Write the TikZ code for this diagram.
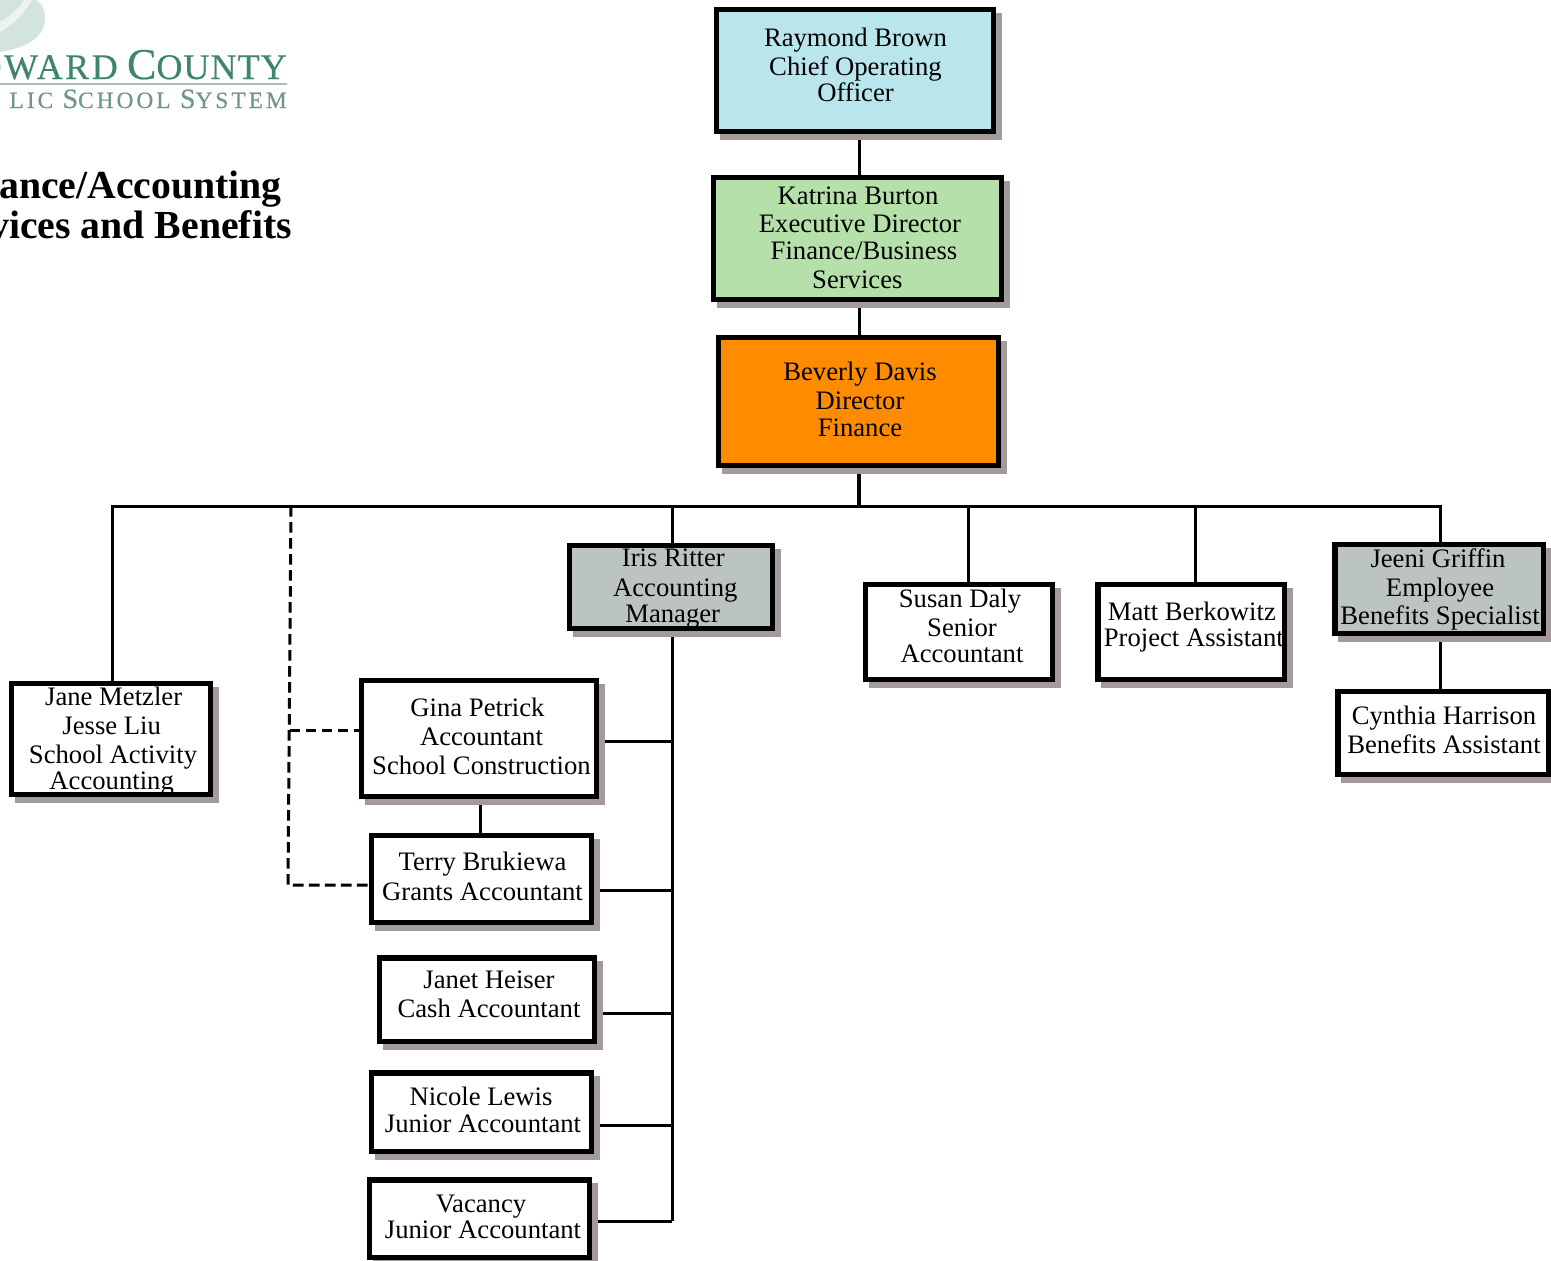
\documentclass[tikz,border=0pt]{standalone}
\usepackage{fontspec}
\setmainfont{Liberation Serif}
\usetikzlibrary{shadows,backgrounds}
\definecolor{shadowc}{HTML}{A39A9A}
\definecolor{bluec}{HTML}{B9E6EC}
\definecolor{greenc}{HTML}{B5E0A9}
\definecolor{orangec}{HTML}{FF8C00}
\definecolor{grayc}{HTML}{BCC4C0}
\definecolor{logoc}{HTML}{3F8470}
\definecolor{logob}{HTML}{6F968B}
\definecolor{logod}{HTML}{D3E3DE}
\definecolor{logoe}{HTML}{ECF3F0}
\tikzset{
  orgbox/.style={draw=black,line width=4.1pt,rectangle,inner sep=0pt,
    general shadow={shadow xshift=4.5pt,shadow yshift=-4.5pt,fill=shadowc,draw=shadowc,line width=4.1pt}},
  boxtext/.style={align=center,inner sep=0pt,font=\fontsize{20}{21}\selectfont},
  link/.style={draw=black,line width=2.25pt},
  thick link/.style={draw=black,line width=3.2pt},
  dash link/.style={draw=black,line width=2.25pt,dash pattern=on 8pt off 4pt},
  titletext/.style={anchor=base east,inner sep=0pt,font=\fontsize{29.8}{30}\selectfont\bfseries},
}
\newcommand\orgnode[6]{%
  \pgfmathsetmacro\bw{0.75*(#4-#2-5.5)}%
  \pgfmathsetmacro\bh{0.75*(#5-#3-5.5)}%
  \node[orgbox,fill=#6,minimum width=\bw pt,minimum height=\bh pt] (#1) at ({(#2+#4)/2},{(#3+#5)/2}) {};
}
\newcommand\orgtext[4]{\node[boxtext] (#1) at (#2,#3) {#4};}
\newcommand\sh[1]{\kern#1pt\relax}
\begin{document}
\begin{tikzpicture}[x=0.75pt,y=-0.75pt]
\useasboundingbox (0,0) rectangle (1551,1260);
% logo
\fill[logod] (0,52) .. controls (25,48) and (45,38) .. (45,18) .. controls (45,10) and (42,4) .. (37,0) -- (0,0) -- cycle;
\fill[logoe] (0,22) .. controls (10,16) and (20,8) .. (24,0) -- (32,0) .. controls (26,12) and (12,26) .. (0,32) -- cycle;
\node[anchor=base east,inner sep=0pt,text=logoc] (logoa) at (287,79)
  {\addfontfeature{FakeBold=0.4}\fontsize{27}{30}\selectfont\addfontfeature{LetterSpace=7}OWARD\hspace{7pt}{\fontsize{33}{30}\selectfont C}\addfontfeature{LetterSpace=3}OUNTY};
\node[anchor=base east,inner sep=0pt,text=logob] (logob) at (287,108)
  {\addfontfeature{FakeBold=0.4}\fontsize{17.5}{20}\selectfont\addfontfeature{LetterSpace=13}LIC\hspace{7pt}{\fontsize{21}{20}\selectfont S}CHOOL\hspace{7pt}{\fontsize{21}{20}\selectfont S}YSTEM};
\fill[logob!60] (0,82.5) rectangle (287,84.5);
\node[titletext] (titlea) at (282,198) {ance/Accounting};
\node[titletext] (titleb) at (292,238) {vices and Benefits};
% boxes
\orgnode{raymond}{714}{7}{996}{134}{bluec}
\orgnode{katrina}{711}{175}{1004}{302}{greenc}
\orgnode{beverly}{716}{335}{1001}{468}{orangec}
\orgnode{iris}{567}{543}{775}{631}{grayc}
\orgnode{susan}{863}{582}{1055}{682}{white}
\orgnode{matt}{1095}{582}{1287}{682}{white}
\orgnode{jeeni}{1332}{542}{1546}{636}{grayc}
\orgnode{cynthia}{1335}{689}{1551}{777}{white}
\orgnode{jane}{9}{681}{213}{797}{white}
\orgnode{gina}{359}{678}{599}{799}{white}
\orgnode{terry}{369}{833}{594}{925}{white}
\orgnode{janet}{377}{955}{597}{1044}{white}
\orgnode{nicole}{369}{1070}{594}{1154}{white}
\orgnode{vacancy}{367}{1177}{592}{1260}{white}
% texts
\orgtext{raymondt}{855.5}{65}{Raymond Brown\\[0.7pt]Chief Operating\\[-1.5pt]Officer}
\orgtext{katrinat}{860}{238}{\sh{-3}Katrina Burton\\Executive Director\\[-1pt]\sh{6}Finance/Business\\[0.7pt]\sh{-4}Services}
\orgtext{beverlyt}{860}{399.5}{Beverly Davis\\[0.7pt]Director\\[-1pt]Finance}
\orgtext{irist}{674}{588.5}{\sh{-1}Iris Ritter\\[1pt]\sh{2}Accounting\\[-1.5pt]\sh{-2}Manager}
\orgtext{susant}{962}{625.5}{\sh{-3}Susan Daly\\[0.7pt]Senior\\[-1.5pt]Accountant}
\orgtext{mattt}{1192.5}{627}{\sh{-1}Matt Berkowitz\\[-1.5pt]\sh{2}Project Assistant}
\orgtext{jeenit}{1440}{589.5}{\sh{-3}Jeeni Griffin\\[1pt]Employee\\Benefits Specialist}
\orgtext{cynthiat}{1444}{730}{Cynthia Harrison\\[0.4pt]Benefits Assistant}
\orgtext{janet1}{113}{741.5}{\sh{1}Jane Metzler\\[0.7pt]\sh{-2}Jesse Liu\\[0.7pt]School Activity\\[-1.5pt]\sh{-2}Accounting}
\orgtext{ginat}{481.5}{736}{\sh{-6}Gina Petrick\\[0.7pt]Accountant\\[0.7pt]School Construction}
\orgtext{terryt}{482.5}{876.5}{Terry Brukiewa\\[1.2pt]Grants Accountant}
\orgtext{janett}{489}{994}{Janet Heiser\\[0.7pt]Cash Accountant}
\orgtext{nicolet}{483}{1110}{\sh{-3}Nicole Lewis\\[-1pt]Junior Accountant}
\orgtext{vacancyt}{483}{1217}{\sh{-3}Vacancy\\[-1pt]Junior Accountant}
% connectors
\coordinate (busb) at (859,506);
\coordinate (busl) at (112,506);
\coordinate (busr) at (1440,506);
\coordinate (bustr) at (672,506);
\coordinate (bussu) at (968,506);
\coordinate (busma) at (1195,506);
\coordinate (busda) at (291,506);
\coordinate (dashc) at (288,885);
\coordinate (dashg) at (289.5,730);
\coordinate (trunk) at (672,1221);
\begin{scope}[on background layer]
\draw[link] (raymond.south -| busb) -- (katrina.north -| busb);
\draw[link] (katrina.south -| busb) -- (beverly.north -| busb);
\draw[thick link] (beverly.south -| busb) -- (busb);
\draw[link,line cap=rect] (busl) -- (busr);
\draw[link] (busl) -- (jane.north -| busl);
\draw[link] (bustr) -- (iris.north -| bustr);
\draw[link] (bussu) -- (susan.north -| bussu);
\draw[link] (busma) -- (matt.north -| busma);
\draw[link] (busr) -- (jeeni.north -| busr);
\draw[link] (jeeni.south -| busr) -- (cynthia.north -| busr);
\draw[link] (iris.south -| bustr) -- (trunk);
\draw[link] (gina.east |- 0,741) -- (672,741);
\draw[link] (terry.east |- 0,890) -- (672,890);
\draw[link] (janet.east |- 0,1013) -- (672,1013);
\draw[link] (nicole.east |- 0,1125) -- (672,1125);
\draw[link] (vacancy.east |- trunk) -- (trunk);
\draw[link] (gina.south -| 480,0) -- (terry.north -| 480,0);
\draw[dash link] (busda) -- (dashc) -- (terry.west |- dashc);
\draw[dash link] (dashg) -- (gina.west |- dashg);
\end{scope}
\end{tikzpicture}
\end{document}
